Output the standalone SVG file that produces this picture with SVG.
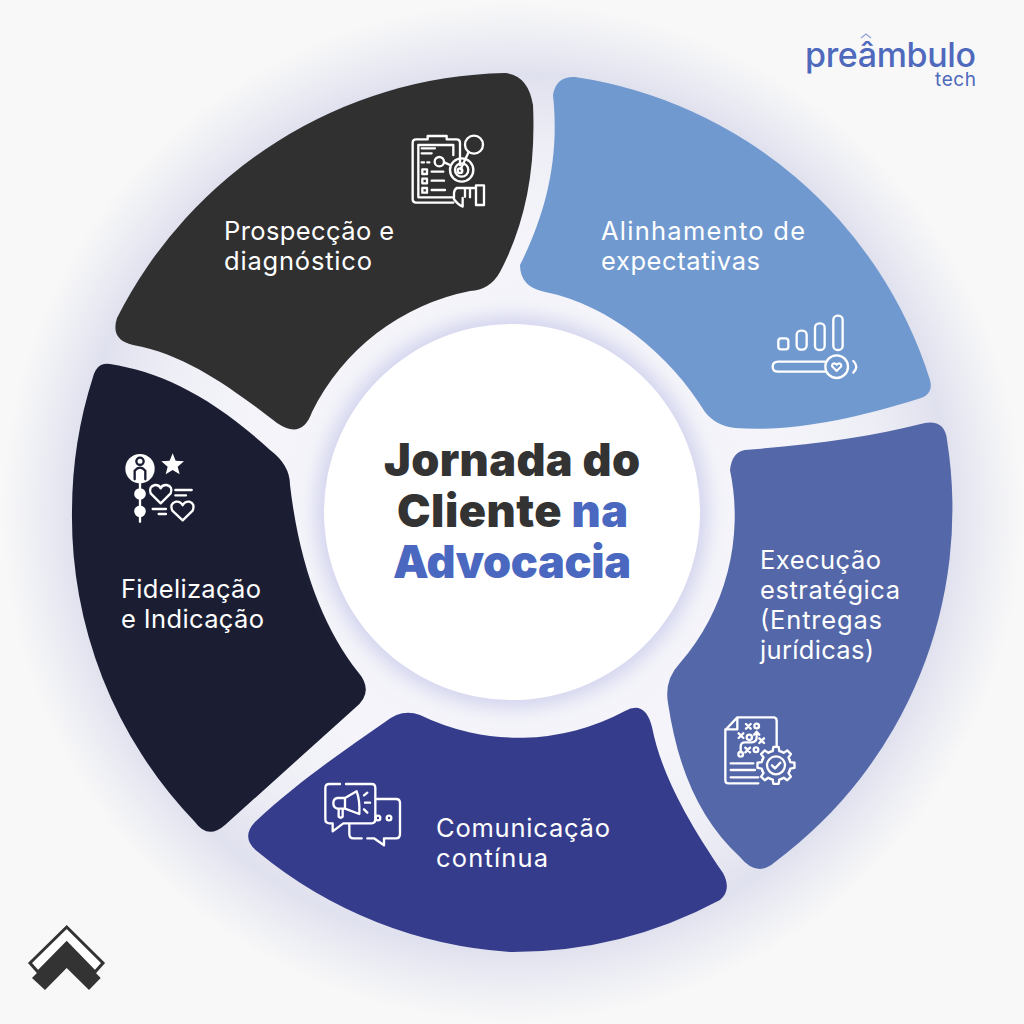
<svg xmlns="http://www.w3.org/2000/svg" width="1024" height="1024" viewBox="0 0 1024 1024">
<style>
.lbl{font-family:"Inter","Liberation Sans",sans-serif;font-size:25.5px;font-weight:400;fill:#fff}
.ttl{font-family:"Inter","Liberation Sans",sans-serif;font-size:45px;font-weight:900;fill:#333}
.ic{fill:none;stroke:#fff;stroke-width:7;stroke-linecap:round;stroke-linejoin:round}
.brand{font-family:"Inter","Liberation Sans",sans-serif;fill:#4f69bd}
.blue{fill:#4a68c0}
</style>
<defs>
<filter id="b2" x="-20%" y="-20%" width="140%" height="140%"><feGaussianBlur stdDeviation="9"/></filter>
<radialGradient id="halo" gradientUnits="userSpaceOnUse" cx="512" cy="512" r="510">
<stop offset="0" stop-color="#f3f3f9"/><stop offset=".55" stop-color="#f4f4fa"/><stop offset=".72" stop-color="#eeeef6"/><stop offset=".86" stop-color="#e0e1ee"/><stop offset=".93" stop-color="#edeef4"/><stop offset="1" stop-color="#f8f8f8"/>
</radialGradient>
<path id="gt" d="M40.7 -16.8L42.9 -9.9L55.5 -7.8L55.5 7.8L42.9 9.9L40.7 16.8"/>
</defs>
<rect id="bg" width="1024" height="1024" fill="#f8f8f8"/>
<circle cx="512" cy="512" r="510" fill="url(#halo)"/>
<g id="seg-prospeccao">
<path d="M505 73Q528 75 533 105C536 170 525 225 500 272Q490 290 470 291A225 225 0 0 0 312 412Q302 440 277 423C240 395 190 355 133 345Q110 340 117 318A445 445 0 0 1 505 73Z" fill="#303030"/>
<text class="lbl" x="224" y="240" textLength="170">Prospecção e</text>
<text class="lbl" x="224" y="270" textLength="148">diagnóstico</text>
<g transform="translate(390 110) scale(.3333)" class="ic">
<path d="M210 165V98Q210 88 200 88H170V78H113V88H78Q68 88 68 98V268Q68 278 78 278H190"/>
<path d="M190 135V105H85V262H190"/>
<path d="M95 115H135M95 130H125M95 157H102M112 157H118"/>
<circle cx="148" cy="155" r="14"/><circle cx="215" cy="180" r="35"/><circle cx="215" cy="180" r="20"/><circle cx="210" cy="182" r="7"/>
<circle cx="252" cy="104" r="27"/><path d="M236 126L212 178M163 157L180 165"/>
<rect x="97" y="178" width="14" height="14"/><rect x="97" y="206" width="14" height="14"/><rect x="97" y="234" width="14" height="14"/>
<path d="M125 185H160M125 212H162M125 240H165"/>
<path d="M258 226H282V285H258ZM258 234H200Q192 240 192 250V268Q205 285 218 290V264M225 234V260M240 234V262"/>
</g>
</g>
<g id="seg-alinhamento">
<path d="M553 95Q556 76 575 77A440 440 0 0 1 930 380Q934 395 918 399C850 420 790 432 735 428Q716 426 705 412C670 355 610 305 545 292Q520 287 520 265C545 215 560 160 553 95Z" fill="#7099cf"/>
<text class="lbl" x="601" y="240" textLength="204">Alinhamento de</text>
<text class="lbl" x="601" y="270" textLength="159">expectativas</text>
<g transform="translate(750 300) scale(.3333)" class="ic">
<rect x="85" y="115" width="30" height="33" rx="8"/><rect x="140" y="92" width="30" height="57" rx="13"/><rect x="195" y="70" width="29" height="80" rx="13"/><rect x="250" y="47" width="28" height="103" rx="13"/>
<path d="M225 185H85Q68 185 68 200Q68 215 85 215H225"/>
<circle cx="260" cy="200" r="34"/><path d="M260 213L246 199Q246 190 254 190L260 194L266 190Q274 190 274 199Z" stroke-width="6"/>
<path d="M310 183Q328 200 310 218"/>
</g>
</g>
<g id="seg-execucao">
<path d="M745 450C810 445 870 437 925 423Q945 420 947 440A440 440 0 0 1 775 862Q757 878 740 857C700 820 678 770 668 703Q664 680 680 663A225 225 0 0 0 730 470Q732 452 745 450Z" fill="#5467a8"/>
<text class="lbl" x="760" y="569" textLength="121">Execução</text>
<text class="lbl" x="760" y="599" textLength="140">estratégica</text>
<text class="lbl" x="760" y="629" textLength="122">(Entregas</text>
<text class="lbl" x="760" y="659" textLength="114">jurídicas)</text>
<g transform="translate(700 700) scale(.3333)" class="ic" stroke-width="6">
<path d="M175 250H85Q76 250 76 240V90L112 52H220Q230 52 230 62V140M112 52V88H76"/>
<path d="M92 190H160M92 210H165M92 232H175"/>
<path d="M138 72L152 86M152 72L138 86M116 100L130 114M130 100L116 114M178 115L192 129M192 115L178 129M136 143L150 157M150 143L136 157"/>
<circle cx="170" cy="78" r="7"/><circle cx="148" cy="112" r="8"/><circle cx="168" cy="149" r="7"/><circle cx="122" cy="163" r="7"/>
<path d="M122 155V140Q122 127 135 127H155Q170 127 170 112V96M162 104L170 95L178 104"/>
<g transform="translate(228 196)"><use href="#gt"/><use href="#gt" transform="rotate(45)"/><use href="#gt" transform="rotate(90)"/><use href="#gt" transform="rotate(135)"/><use href="#gt" transform="rotate(180)"/><use href="#gt" transform="rotate(225)"/><use href="#gt" transform="rotate(270)"/><use href="#gt" transform="rotate(315)"/><circle r="27"/><path d="M-12 0L-3 9L13 -8"/></g>
</g>
</g>
<g id="seg-comunicacao">
<path d="M385 722Q402 708 420 715A225 225 0 0 0 625 711Q645 700 652 727C660 767 680 810 723 873Q732 890 720 900A440 440 0 0 1 512 952A440 440 0 0 1 258 852Q240 838 255 822C300 780 345 750 385 722Z" fill="#363c8c"/>
<text class="lbl" x="436" y="837" textLength="174">Comunicação</text>
<text class="lbl" x="436" y="867" textLength="112">contínua</text>
<g transform="translate(310 770) scale(.3333)" class="ic" stroke-width="6">
<path d="M90 42H58Q46 42 46 54V148Q46 160 58 160H68V184L100 160H185Q196 160 196 148V54Q196 42 185 42H108"/>
<path d="M200 87H258Q270 87 270 99V192Q270 205 258 205H222V226L192 205H172M155 205H130Q118 205 118 192V163"/>
<path d="M105 84H82Q70 86 70 100Q70 113 82 116H105ZM105 84L140 64Q150 90 148 132L105 116ZM86 116V140Q92 146 98 140V120"/>
<path d="M162 76L172 68M165 98H180M162 118L172 128"/>
<circle cx="204" cy="144" r="7"/><circle cx="237" cy="144" r="7"/>
</g>
</g>
<g id="seg-fidelizacao">
<path d="M110 364C160 372 210 395 270 450Q290 465 290 485C300 570 325 630 358 672Q375 692 355 708L225 825Q208 840 195 822A440 440 0 0 1 72 510A440 440 0 0 1 93 377Q97 362 110 364Z" fill="#1b1e33"/>
<text class="lbl" x="121" y="598" textLength="140">Fidelização</text>
<text class="lbl" x="121" y="628" textLength="143">e Indicação</text>
<g transform="translate(110 440) scale(.3333)" class="ic" stroke-width="6">
<circle cx="90" cy="86" r="44" fill="#fff" stroke="none"/>
<circle cx="90" cy="64" r="11" stroke="#1b1e33"/><path d="M74 118V92Q90 74 106 92V118" stroke="#1b1e33"/>
<path d="M90 130V245"/><circle cx="90" cy="162" r="14" fill="#fff"/><circle cx="90" cy="214" r="14" fill="#fff"/>
<path d="M188 40L197 62L222 64L203 80L209 103L188 90L167 103L173 80L154 64L179 62Z" fill="#fff" stroke="none"/>
<path d="M152 190L122 160Q115 140 135 135Q148 134 152 145Q156 134 170 135Q190 140 182 160Z"/>
<path d="M218 241L187 212Q178 190 198 185Q212 184 218 196Q224 184 238 185Q256 190 248 212Z"/>
<path d="M196 150H245M196 166H228M128 207H168M146 222H168"/>
</g>
</g>
<g id="centro">
<circle cx="512" cy="512" r="196" fill="#d3d4ee" filter="url(#b2)"/>
<circle cx="512" cy="512" r="188" fill="#fff"/>
<text class="ttl" x="384" y="476" textLength="256">Jornada do</text>
<text class="ttl" x="397" y="527" textLength="231">Cliente <tspan class="blue">na</tspan></text>
<text class="ttl blue" x="393" y="578" textLength="238">Advocacia</text>
</g>
<g id="logo-preambulo">
<text class="brand" x="805" y="67" style="font-size:34px;font-weight:500" textLength="171">preâmbulo</text>
<text class="brand" x="935" y="86" style="font-size:19px;font-weight:400" textLength="41">tech</text>
<path d="M861 38L866 34L871 38" fill="none" stroke="#8ea0d8" stroke-width="1.2"/>
</g>
<g id="logo-marca">
<path d="M66.7 927L103 963L95 972L66.7 943L38 972L30 963Z" fill="#fff" stroke="#333" stroke-width="3"/>
<path d="M66.7 943L100.7 978L89 990L66.7 968L45 990L32 978Z" fill="#333"/>
</g>
</svg>
